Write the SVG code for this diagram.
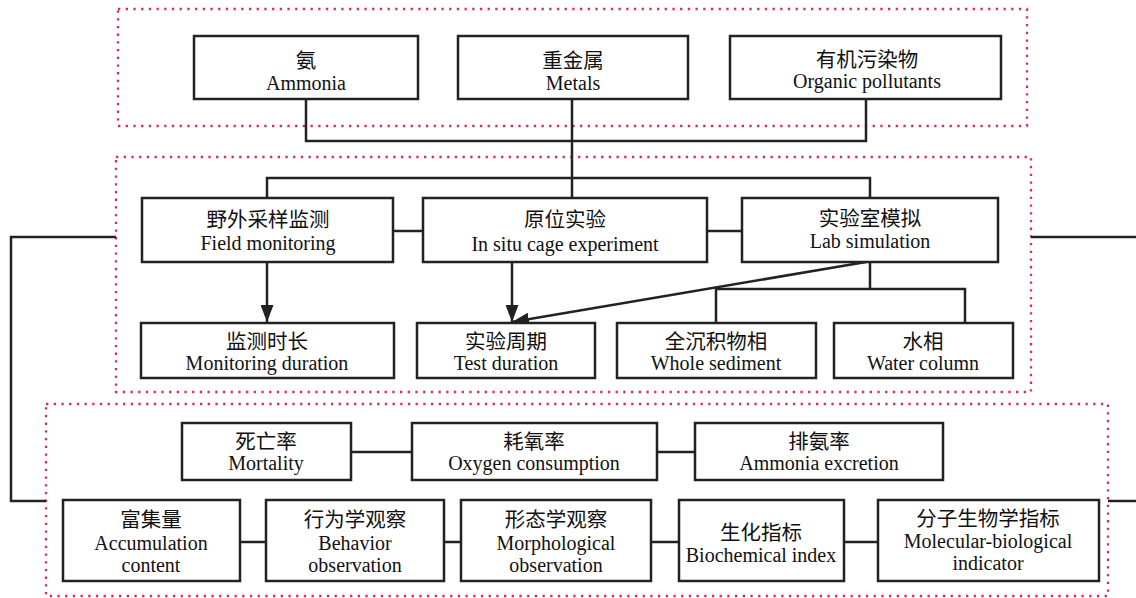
<svg xmlns="http://www.w3.org/2000/svg" width="1136" height="598" viewBox="0 0 1136 598">
<style>
.bg{fill:#ffffff}
.dot{fill:none;stroke:#e2285a;stroke-width:2.3;stroke-dasharray:2.3 5.4}
.box{fill:#ffffff;stroke:#222222;stroke-width:2.5}
.ln{fill:none;stroke:#222222;stroke-width:2.5}
.zh{font-family:"Liberation Serif","Noto Sans CJK SC",serif;font-size:20.5px;fill:#111111;text-anchor:middle}
.en{font-family:"Liberation Serif","Noto Sans CJK SC",serif;font-size:20px;fill:#111111;text-anchor:middle}
</style>
<defs>
<marker id="arr" viewBox="0 0 17 13" refX="17" refY="6.5" markerWidth="17" markerHeight="13" markerUnits="userSpaceOnUse" orient="auto">
<path d="M0,0 L17,6.5 L0,13 Z" fill="#222222"/>
</marker>
</defs>
<rect class="bg" x="0" y="0" width="1136" height="598"/>
<g id="frames">
<rect class="dot" x="118" y="9" width="909" height="117"/>
<rect class="dot" x="116" y="157" width="915" height="235"/>
<rect class="dot" x="46" y="404" width="1062" height="192"/>
</g>
<g id="connectors">
<path class="ln" d="M306,99 V141 H866 V99"/>
<path class="ln" d="M572,99 V198"/>
<path class="ln" d="M267,198 V178 H870 V198"/>
<path class="ln" d="M393,231 H423"/>
<path class="ln" d="M707,231 H742"/>
<path class="ln" d="M267,262 V322" marker-end="url(#arr)"/>
<path class="ln" d="M512,262 V322" marker-end="url(#arr)"/>
<path class="ln" d="M866,262 L512,322" marker-end="url(#arr)"/>
<path class="ln" d="M870,262 V289"/>
<path class="ln" d="M716,323 V289 H965 V323"/>
<path class="ln" d="M116,237 H11 V501 H46"/>
<path class="ln" d="M1031,237 H1136"/>
<path class="ln" d="M1108,501 H1136"/>
<path class="ln" d="M351,452 H412"/>
<path class="ln" d="M657,452 H695"/>
<path class="ln" d="M240,542 H266"/>
<path class="ln" d="M444,542 H461"/>
<path class="ln" d="M651,542 H679"/>
<path class="ln" d="M844,542 H878"/>
</g>
<g id="n-ammonia"><rect class="box" x="194" y="36" width="224" height="63"/><text class="zh" x="306" y="68">氨</text><text class="en" x="306" y="90">Ammonia</text></g>
<g id="n-metals"><rect class="box" x="458" y="36" width="230" height="63"/><text class="zh" x="573" y="68">重金属</text><text class="en" x="573" y="90">Metals</text></g>
<g id="n-organic"><rect class="box" x="730" y="36" width="271" height="63"/><text class="zh" x="867" y="67">有机污染物</text><text class="en" x="867" y="88">Organic pollutants</text></g>
<g id="n-field"><rect class="box" x="142" y="198" width="251" height="64"/><text class="zh" x="268" y="227">野外采样监测</text><text class="en" x="268" y="250">Field monitoring</text></g>
<g id="n-insitu"><rect class="box" x="423" y="198" width="284" height="64"/><text class="zh" x="565" y="227">原位实验</text><text class="en" x="565" y="251">In situ cage experiment</text></g>
<g id="n-lab"><rect class="box" x="742" y="198" width="256" height="64"/><text class="zh" x="870" y="226">实验室模拟</text><text class="en" x="870" y="248">Lab simulation</text></g>
<g id="n-mondur"><rect class="box" x="141" y="323" width="253" height="55"/><text class="zh" x="267" y="349">监测时长</text><text class="en" x="267" y="370">Monitoring duration</text></g>
<g id="n-testdur"><rect class="box" x="417" y="323" width="178" height="55"/><text class="zh" x="506" y="349">实验周期</text><text class="en" x="506" y="370">Test duration</text></g>
<g id="n-whole"><rect class="box" x="617" y="323" width="199" height="55"/><text class="zh" x="716" y="349">全沉积物相</text><text class="en" x="716" y="370">Whole sediment</text></g>
<g id="n-water"><rect class="box" x="834" y="323" width="179" height="55"/><text class="zh" x="923" y="349">水相</text><text class="en" x="923" y="370">Water column</text></g>
<g id="n-mortality"><rect class="box" x="182" y="423" width="169" height="57"/><text class="zh" x="266" y="449">死亡率</text><text class="en" x="266" y="470">Mortality</text></g>
<g id="n-oxygen"><rect class="box" x="412" y="423" width="245" height="57"/><text class="zh" x="534" y="449">耗氧率</text><text class="en" x="534" y="470">Oxygen consumption</text></g>
<g id="n-ammex"><rect class="box" x="695" y="423" width="248" height="57"/><text class="zh" x="819" y="449">排氨率</text><text class="en" x="819" y="470">Ammonia excretion</text></g>
<g id="n-accum"><rect class="box" x="63" y="500" width="177" height="81"/><text class="zh" x="151" y="527">富集量</text><text class="en" x="151" y="550">Accumulation</text><text class="en" x="151" y="572">content</text></g>
<g id="n-behavior"><rect class="box" x="266" y="500" width="178" height="81"/><text class="zh" x="355" y="527">行为学观察</text><text class="en" x="355" y="550">Behavior</text><text class="en" x="355" y="572">observation</text></g>
<g id="n-morph"><rect class="box" x="461" y="500" width="190" height="81"/><text class="zh" x="556" y="527">形态学观察</text><text class="en" x="556" y="550">Morphological</text><text class="en" x="556" y="572">observation</text></g>
<g id="n-biochem"><rect class="box" x="679" y="500" width="165" height="81"/><text class="zh" x="761" y="540">生化指标</text><text class="en" x="761" y="562">Biochemical index</text></g>
<g id="n-molec"><rect class="box" x="878" y="500" width="221" height="81"/><text class="zh" x="988" y="526">分子生物学指标</text><text class="en" x="988" y="548">Molecular-biological</text><text class="en" x="988" y="570">indicator</text></g>
</svg>
